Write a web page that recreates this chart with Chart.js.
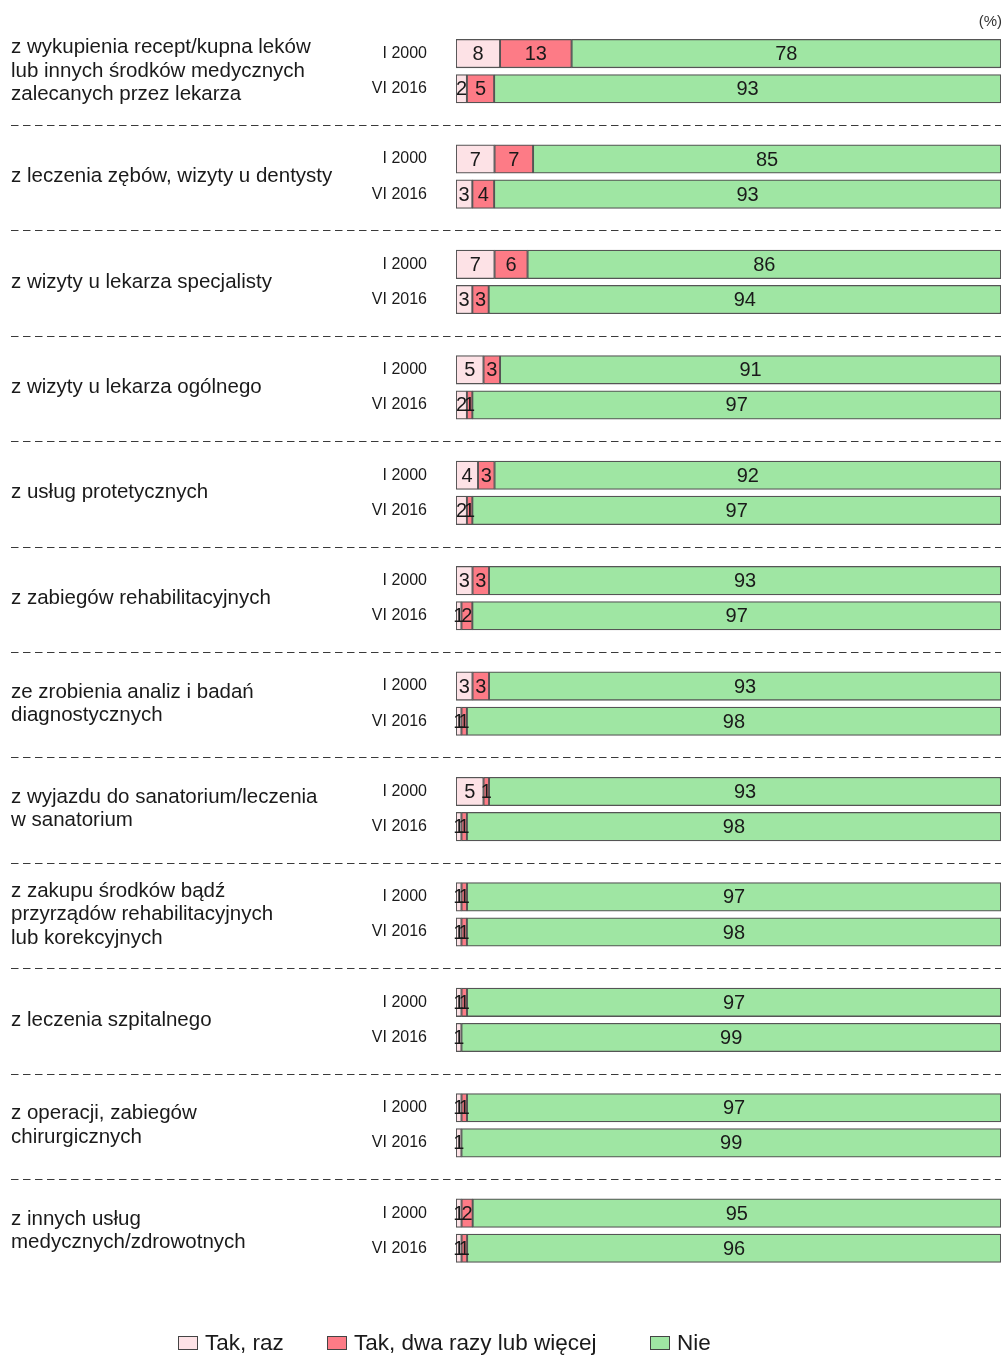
<!DOCTYPE html>
<html lang="pl">
<head>
<meta charset="utf-8">
<title>Rezygnacja z usług medycznych z powodów finansowych</title>
<script src="https://cdn.jsdelivr.net/npm/chart.js@4.4.1/dist/chart.umd.min.js"></script>
<style>
  html, body { margin: 0; padding: 0; background: #fff; }
  #wrap { width: 1004px; height: 1355px; position: relative; }
</style>
</head>
<body>
<div id="wrap"><canvas id="chart" width="1004" height="1355"></canvas></div>
<script>
'use strict';

// ===== DATA =====
const CATEGORIES = [
  ['z wykupienia recept/kupna leków', 'lub innych środków medycznych', 'zalecanych przez lekarza'],
  ['z leczenia zębów, wizyty u dentysty'],
  ['z wizyty u lekarza specjalisty'],
  ['z wizyty u lekarza ogólnego'],
  ['z usług protetycznych'],
  ['z zabiegów rehabilitacyjnych'],
  ['ze zrobienia analiz i badań', 'diagnostycznych'],
  ['z wyjazdu do sanatorium/leczenia', 'w sanatorium'],
  ['z zakupu środków bądź', 'przyrządów rehabilitacyjnych', 'lub korekcyjnych'],
  ['z leczenia szpitalnego'],
  ['z operacji, zabiegów', 'chirurgicznych'],
  ['z innych usług', 'medycznych/zdrowotnych'],
];
const PERIODS = ['I 2000', 'VI 2016'];
const SERIES_LABELS = ['Tak, raz', 'Tak, dwa razy lub więcej', 'Nie'];

const ONCE_2000  = [8, 7, 7, 5, 4, 3, 3, 5, 1, 1, 1, 1];
const ONCE_2016  = [2, 3, 3, 2, 2, 1, 1, 1, 1, 1, 1, 1];
const TWICE_2000 = [13, 7, 6, 3, 3, 3, 3, 1, 1, 1, 1, 2];
const TWICE_2016 = [5, 4, 3, 1, 1, 2, 1, 1, 1, 0, 0, 1];
const NO_2000    = [78, 85, 86, 91, 92, 93, 93, 93, 97, 97, 97, 95];
const NO_2016    = [93, 93, 94, 97, 97, 97, 98, 98, 98, 99, 99, 96];

// ===== STYLE =====
const FONT = "'Liberation Sans', Arial, sans-serif";
const COLORS = {
  once: '#fde2e6',
  twice: '#fd7b86',
  no: '#9fe6a3',
  border: '#555555',
  text: '#1a1a1a',
};

// every category takes three rows: I 2000, VI 2016 and an empty gap row
const slotLabels = [];
CATEGORIES.forEach(() => slotLabels.push(PERIODS[0], PERIODS[1], ''));

function toSlots(a2000, a2016) {
  const out = [];
  a2000.forEach((v, i) => out.push(v, a2016[i], null));
  return out;
}

const rawSeries = [
  toSlots(ONCE_2000, ONCE_2016),
  toSlots(TWICE_2000, TWICE_2016),
  toSlots(NO_2000, NO_2016),
];

// rounded answers don't always sum to 100, bars are drawn as 100% stacks
const rowTotals = rawSeries[0].map((v, i) =>
  v === null ? null : rawSeries[0][i] + rawSeries[1][i] + rawSeries[2][i]);
const shareSeries = rawSeries.map(s =>
  s.map((v, i) => (v === null ? null : v / rowTotals[i] * 100)));

const seriesColors = [COLORS.once, COLORS.twice, COLORS.no];

// ===== PLUGINS =====
const barValues = {
  id: 'barValues',
  afterDatasetsDraw(chart) {
    const { ctx } = chart;
    ctx.save();
    ctx.font = `20px ${FONT}`;
    ctx.fillStyle = COLORS.text;
    ctx.textAlign = 'center';
    ctx.textBaseline = 'middle';
    chart.data.datasets.forEach((ds, di) => {
      const meta = chart.getDatasetMeta(di);
      meta.data.forEach((el, i) => {
        const v = ds.rawValues[i];
        if (v === null || v === 0) return;
        const p = el.getCenterPoint();
        ctx.fillText(String(v), p.x, p.y + 1);
      });
    });
    ctx.restore();
  }
};

const decorations = {
  id: 'decorations',
  afterDraw(chart) {
    const { ctx } = chart;
    const y = chart.scales.y;
    ctx.save();

    // category names
    ctx.font = `20.5px ${FONT}`;
    ctx.fillStyle = COLORS.text;
    ctx.textAlign = 'left';
    ctx.textBaseline = 'middle';
    CATEGORIES.forEach((lines, g) => {
      const mid = (y.getPixelForValue(g * 3) + y.getPixelForValue(g * 3 + 1)) / 2;
      const lh = 23.5;
      const top = mid - (lines.length - 1) * lh / 2;
      lines.forEach((t, k) => ctx.fillText(t, 11, top + k * lh));
    });

    // dashed separators between categories
    ctx.strokeStyle = '#3a3a3a';
    ctx.lineWidth = 1;
    ctx.setLineDash([7.5, 4.5]);
    for (let g = 0; g < CATEGORIES.length - 1; g++) {
      const py = Math.round(y.getPixelForValue(g * 3 + 2) + 1) + 0.5;
      ctx.beginPath();
      ctx.moveTo(11, py);
      ctx.lineTo(1001, py);
      ctx.stroke();
    }
    ctx.setLineDash([]);

    // unit
    ctx.font = `15px ${FONT}`;
    ctx.textAlign = 'right';
    ctx.fillStyle = '#333';
    ctx.fillText('(%)', 1002, 22);

    // legend
    const boxX = [178, 327, 650];
    const ly = 1343;
    ctx.font = `22.5px ${FONT}`;
    ctx.textAlign = 'left';
    SERIES_LABELS.forEach((label, i) => {
      ctx.fillStyle = seriesColors[i];
      ctx.fillRect(boxX[i], ly - 7, 20, 14);
      ctx.strokeStyle = '#444';
      ctx.lineWidth = 1;
      ctx.strokeRect(boxX[i] + 0.5, ly - 6.5, 19, 13);
      ctx.fillStyle = COLORS.text;
      ctx.fillText(label, boxX[i] + 27, ly + 1);
    });

    ctx.restore();
  }
};

// ===== CHART =====
function initChart() {
  const canvas = document.getElementById('chart');

  new Chart(canvas.getContext('2d'), {
    type: 'bar',
    data: {
      labels: slotLabels,
      datasets: SERIES_LABELS.map((label, i) => ({
        label,
        data: shareSeries[i],
        rawValues: rawSeries[i],
        backgroundColor: seriesColors[i],
        borderColor: COLORS.border,
        borderWidth: 1.3,
        borderSkipped: false,
        barThickness: 28.5,
      })),
    },
    options: {
      indexAxis: 'y',
      responsive: false,
      animation: false,
      layout: { padding: { top: 36, right: 3, bottom: 54, left: 0 } },
      plugins: {
        legend: { display: false },
        tooltip: { enabled: false },
      },
      scales: {
        x: {
          stacked: true,
          min: 0,
          max: 100,
          display: false,
        },
        y: {
          stacked: true,
          grid: { display: false, drawTicks: false },
          border: { display: false },
          ticks: {
            autoSkip: false,
            padding: 29,
            color: COLORS.text,
            font: { family: FONT, size: 16 },
          },
          afterFit(scale) {
            scale.width = 456;
            scale.paddingTop = 0;
            scale.paddingBottom = 0;
          },
        },
      },
    },
    plugins: [barValues, decorations],
  });
}

initChart();
</script>
</body>
</html>
